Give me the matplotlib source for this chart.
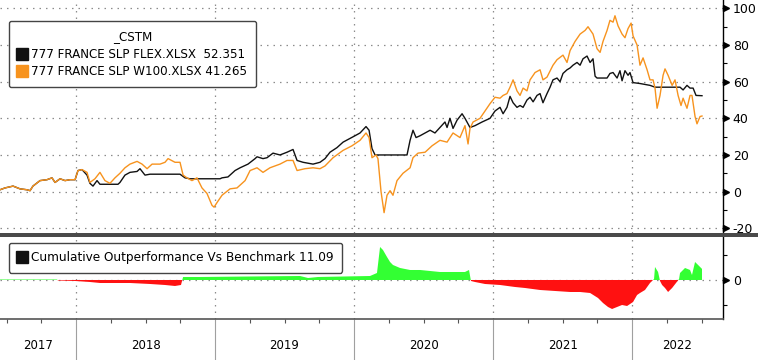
import numpy as np
import matplotlib
matplotlib.use("Agg")
import matplotlib.pyplot as plt
from matplotlib.lines import Line2D
from matplotlib.patches import Rectangle
from matplotlib.ticker import MultipleLocator

plt.rcParams['font.family'] = ['DejaVu Sans']
plt.rcParams['axes.unicode_minus'] = False

# ---- data (decimal years) ----
w100_t = [2017.453, 2017.489, 2017.547, 2017.597, 2017.647, 2017.669, 2017.690, 2017.741,
          2017.791, 2017.827, 2017.849, 2017.885, 2017.921, 2017.957, 2017.993, 2018.014,
          2018.043, 2018.079, 2018.100, 2018.136, 2018.172, 2018.208, 2018.244, 2018.280,
          2018.316, 2018.352, 2018.388, 2018.439, 2018.475, 2018.511, 2018.547, 2018.604,
          2018.640, 2018.662, 2018.712, 2018.748, 2018.770, 2018.798, 2018.834, 2018.870,
          2018.906, 2018.942, 2018.978, 2018.993, 2019.014, 2019.050, 2019.108, 2019.158,
          2019.216, 2019.252, 2019.302, 2019.345, 2019.395, 2019.467, 2019.518, 2019.561,
          2019.590, 2019.647, 2019.705, 2019.755, 2019.791, 2019.849, 2019.921, 2019.985,
          2020.043, 2020.086, 2020.108, 2020.129, 2020.158, 2020.172, 2020.194, 2020.216,
          2020.237, 2020.259, 2020.280, 2020.309, 2020.352, 2020.403, 2020.424, 2020.460,
          2020.511, 2020.561, 2020.618, 2020.669, 2020.712, 2020.762, 2020.798, 2020.820,
          2020.834, 2020.856, 2020.906, 2020.942, 2020.978, 2021.014, 2021.050, 2021.072,
          2021.100, 2021.122, 2021.144, 2021.172, 2021.194, 2021.216, 2021.244, 2021.266,
          2021.302, 2021.338, 2021.359, 2021.388, 2021.431, 2021.460, 2021.503, 2021.532,
          2021.554, 2021.590, 2021.626, 2021.662, 2021.683, 2021.719, 2021.748, 2021.770,
          2021.791, 2021.820, 2021.841, 2021.863, 2021.877, 2021.899, 2021.928, 2021.949,
          2021.971, 2021.993, 2022.007, 2022.036, 2022.057, 2022.079, 2022.108, 2022.129,
          2022.151, 2022.165, 2022.180, 2022.201, 2022.223, 2022.237, 2022.259, 2022.288,
          2022.309, 2022.331, 2022.352, 2022.367, 2022.395, 2022.417, 2022.431, 2022.453,
          2022.467, 2022.489, 2022.503]
w100_v = [1, 2, 3, 1.5, 1, 0.5, 3, 6,
          6.5, 7.5, 5, 7, 6, 6.5, 6.5, 11.5,
          12, 10.5, 5, 7, 10.5, 6, 4.5, 7.5,
          10, 13, 15, 16.5, 15, 12.5, 15, 15,
          16, 18, 16, 16, 9, 7.5, 6, 7.5,
          2, -1, -7.5, -8.5, -6, -2, 1.5, 2,
          6, 11.5, 13, 10.5, 13, 15, 17, 17,
          11.5, 12.5, 13, 12.5, 14, 18.5, 22.5, 25,
          28, 32, 29.5, 18.5, 20, 18, 0, -11.5,
          -2, 0.5, -2, 6, 10, 13, 18.5, 21,
          21.5, 25, 28, 27, 32, 29.5, 36, 26,
          34.5, 38, 40, 44, 48, 51.5, 51, 52.5,
          53.5, 57, 61, 55, 52.5, 56.5, 55, 61,
          65, 66.5, 61, 62.5, 69, 72, 74.5, 70.5,
          77, 82, 86, 88, 90, 86, 78, 76,
          82, 88, 93.5, 92.5, 96, 90.5, 86, 84,
          89, 92, 85, 80, 69, 73, 66.5, 61,
          61, 56.5, 45.5, 52.5, 63.5, 67, 63.5, 58,
          61, 52.5, 47, 51, 45.5, 52.5, 52.5, 41,
          37, 41, 41.265]

flex_t = [2017.453, 2017.489, 2017.547, 2017.597, 2017.647, 2017.669, 2017.690, 2017.741,
          2017.791, 2017.827, 2017.849, 2017.885, 2017.921, 2017.957, 2017.993, 2018.014,
          2018.043, 2018.079, 2018.100, 2018.122, 2018.151, 2018.172, 2018.208, 2018.302,
          2018.316, 2018.352, 2018.388, 2018.439, 2018.460, 2018.496, 2018.532, 2018.604,
          2018.676, 2018.748, 2018.784, 2018.820, 2019.036, 2019.050, 2019.093, 2019.144,
          2019.180, 2019.237, 2019.288, 2019.302, 2019.345, 2019.374, 2019.417, 2019.467,
          2019.518, 2019.561, 2019.590, 2019.633, 2019.705, 2019.755, 2019.791, 2019.827,
          2019.877, 2019.921, 2019.971, 2020.007, 2020.043, 2020.086, 2020.108, 2020.129,
          2020.151, 2020.381, 2020.403, 2020.424, 2020.446, 2020.475, 2020.511, 2020.547,
          2020.582, 2020.618, 2020.654, 2020.669, 2020.690, 2020.712, 2020.741, 2020.777,
          2020.798, 2020.834, 2020.870, 2020.921, 2020.978, 2021.014, 2021.050, 2021.072,
          2021.100, 2021.122, 2021.144, 2021.172, 2021.194, 2021.216, 2021.244, 2021.266,
          2021.288, 2021.316, 2021.338, 2021.359, 2021.388, 2021.410, 2021.431, 2021.460,
          2021.482, 2021.503, 2021.532, 2021.554, 2021.575, 2021.604, 2021.626, 2021.647,
          2021.676, 2021.698, 2021.719, 2021.734, 2021.748, 2021.820, 2021.841, 2021.863,
          2021.892, 2021.913, 2021.928, 2021.949, 2021.971, 2021.985, 2022.007, 2022.057,
          2022.129, 2022.165, 2022.345, 2022.367, 2022.395, 2022.417, 2022.439, 2022.460,
          2022.503]
flex_v = [1, 2, 3, 1.5, 1, 0.5, 3, 6,
          6.5, 7.5, 5, 7, 6, 6.5, 6.5, 11.5,
          12, 9, 4.5, 3, 6, 4, 4, 4,
          5, 9, 10.5, 11, 12.5, 9, 9.5, 9.5,
          9.5, 9.5, 7.5, 7, 7, 7.5, 8, 11.5,
          13, 15, 18, 19, 18, 18.5, 21, 20,
          21.5, 23, 17, 16, 15, 16, 18, 21.5,
          24, 27, 29, 30.5, 32, 35.5, 33.5, 23.5,
          20, 20, 28, 33.5, 29.5, 30.5, 32, 33.5,
          32, 35, 38, 35, 40, 34.5, 39, 42.5,
          40, 35, 36, 38, 40, 44, 46, 42.5,
          46, 52, 48.5, 46, 47, 46, 50, 51.5,
          49, 52.5, 53.5, 48.5, 53.5, 57, 61, 62,
          60, 64.5, 66.5, 67.5, 69, 70.5, 69, 72.5,
          74, 70.5, 72.5, 63, 62, 62, 64.5, 65,
          62, 66, 60.5, 66, 63.5, 65, 59.5, 59,
          58, 57, 57, 55.5, 58, 56.5, 56.5, 52.5,
          52.351]

perf_t = [2017.453, 2017.863, 2017.870, 2017.993, 2018.100, 2018.172, 2018.388, 2018.532,
          2018.640, 2018.712, 2018.755, 2018.770, 2018.892, 2019.611, 2019.669, 2019.741,
          2020.115, 2020.165, 2020.187, 2020.208, 2020.237, 2020.259, 2020.280, 2020.331,
          2020.403, 2020.475, 2020.547, 2020.618, 2020.798, 2020.827, 2020.841, 2020.870,
          2020.942, 2021.050, 2021.158, 2021.230, 2021.338, 2021.446, 2021.554, 2021.626,
          2021.698, 2021.755, 2021.791, 2021.827, 2021.856, 2021.892, 2021.928, 2021.964,
          2022.007, 2022.036, 2022.057, 2022.093, 2022.129, 2022.158, 2022.165, 2022.187,
          2022.201, 2022.216, 2022.237, 2022.259, 2022.288, 2022.316, 2022.338, 2022.345,
          2022.381, 2022.417, 2022.431, 2022.453, 2022.475, 2022.503]
perf_v = [0.5, 0.5, -0.5, -1, -2, -3, -3, -4,
          -5, -6, -5, 3, 3, 4, 2, 3,
          4, 7, 33, 30, 23, 18, 15, 12,
          10, 10, 9, 8, 8, 10, -1, -2,
          -4, -5, -7, -8, -10, -11, -12, -12,
          -13, -18, -23, -27, -29, -27, -25, -26,
          -22, -15, -13, -10, -3, 1, 13, 8,
          -1, -5, -8, -12, -8, -3, 1, 7,
          12, 10, 5, 18, 15, 11.09]

years = [2017, 2018, 2019, 2020, 2021, 2022]
legend_title = '_CSTM'
flex_label = '777 FRANCE SLP FLEX.XLSX  52.351'
w100_label = '777 FRANCE SLP W100.XLSX 41.265'
perf_label = 'Cumulative Outperformance Vs Benchmark 11.09'

ORANGE = '#f7931e'
BLACK = '#111111'
GREEN = '#33ff33'
RED = '#ff1111'
GRID = '#8c8c8c'
XMIN, XMAX = 2017.453, 2022.654

fig = plt.figure(figsize=(7.6, 3.6), dpi=100)
ax = fig.add_axes([0.0, 0.3528, 0.9513, 0.6472])
ax2 = fig.add_axes([0.0, 0.1139, 0.9513, 0.2278], sharex=ax)

dots = (0, (1.2, 4))

# ---- top panel ----
ax.plot(flex_t, flex_v, color=BLACK, lw=1.0, zorder=3)
ax.plot(w100_t, w100_v, color=ORANGE, lw=1.0, zorder=4)
ax.set_xlim(XMIN, XMAX)
ax.set_ylim(-22.6, 104.6)
ax.set_yticks([-20, 0, 20, 40, 60, 80, 100])
ax.yaxis.set_minor_locator(MultipleLocator(10))
ax.set_xticks(years[1:])
ax.grid(True, which='major', color=GRID, ls=dots, lw=0.9)
ax.tick_params(axis='x', length=0, labelbottom=False)

for a in (ax, ax2):
    a.yaxis.tick_right()
    a.tick_params(axis='y', which='major', length=0, pad=7, labelsize=9, colors='black')
    a.tick_params(axis='y', which='minor', length=3, width=0.8, direction='out')
    for s in ('top', 'left', 'bottom'):
        a.spines[s].set_visible(False)
    a.spines['right'].set_color('black')
    a.spines['right'].set_linewidth(1.0)
    a.set_facecolor('white')

ticks_top = ax.get_yticks()
ax.plot(np.full(len(ticks_top), 1.0045), ticks_top, ls='none', marker='>', ms=5,
        color='black', transform=ax.get_yaxis_transform(), clip_on=False)

handles = [Line2D([], [], ls='none', marker='s', ms=8, color=BLACK),
           Line2D([], [], ls='none', marker='s', ms=8, color=ORANGE)]
leg = ax.legend(handles, [flex_label, w100_label], title=legend_title, loc='upper left',
                bbox_to_anchor=(0.012, 0.91), borderaxespad=0, fontsize=8.6,
                title_fontsize=8.6, handlelength=0.8, handletextpad=0.35,
                borderpad=0.75, labelspacing=0.4, fancybox=True, framealpha=1,
                edgecolor='#444444')
leg.get_frame().set_linewidth(1.0)
leg.set_zorder(10)

# ---- bottom panel ----
pt = np.array(perf_t)
pv = np.array(perf_v)
ax2.fill_between(pt, pv, 0, where=pv >= 0, interpolate=True, color=GREEN, lw=0, zorder=3)
ax2.fill_between(pt, pv, 0, where=pv <= 0, interpolate=True, color=RED, lw=0, zorder=3)
ax2.set_ylim(-39, 43)
ax2.set_yticks([0])
ax2.set_yticks([-25, 25], minor=True)
ax2.axhline(0, color=GRID, ls=dots, lw=0.9, zorder=1)
ax2.set_xticks(years[1:])
ax2.xaxis.set_minor_locator(MultipleLocator(0.25))
ax2.grid(True, axis='x', which='major', color=GRID, ls=dots, lw=0.9)
ax2.tick_params(axis='x', which='major', length=29.5, width=0.8, color='#a0a0a0',
                direction='out', labelbottom=False)
ax2.tick_params(axis='x', which='minor', length=3, width=0.8, color='#555555',
                direction='out')
ax2.spines['bottom'].set_visible(True)
ax2.spines['bottom'].set_color('#555555')
ax2.spines['bottom'].set_linewidth(1.2)
ax2.plot([1.0045], [0], ls='none', marker='>', ms=5, color='black',
         transform=ax2.get_yaxis_transform(), clip_on=False)

leg2 = ax2.legend([Line2D([], [], ls='none', marker='s', ms=8, color=BLACK)], [perf_label],
                  loc='upper left', bbox_to_anchor=(0.012, 0.927), borderaxespad=0,
                  fontsize=8.7, handlelength=0.8, handletextpad=0.35, borderpad=0.7,
                  fancybox=True, framealpha=1, edgecolor='#444444')
leg2.get_frame().set_linewidth(1.0)
leg2.set_zorder(10)

for yr in years:
    lo, hi = max(yr, XMIN), min(yr + 1, XMAX)
    ax2.text((lo + hi) / 2, -0.32, str(yr), ha='center', va='center', fontsize=8.5,
             transform=ax2.get_xaxis_transform())

# dark separator bar between panels
fig.add_artist(Rectangle((0, 0.3417), 0.997, 0.011, transform=fig.transFigure,
                         color='#4a4a4a', lw=0))

fig.savefig('out.png', dpi=100)
